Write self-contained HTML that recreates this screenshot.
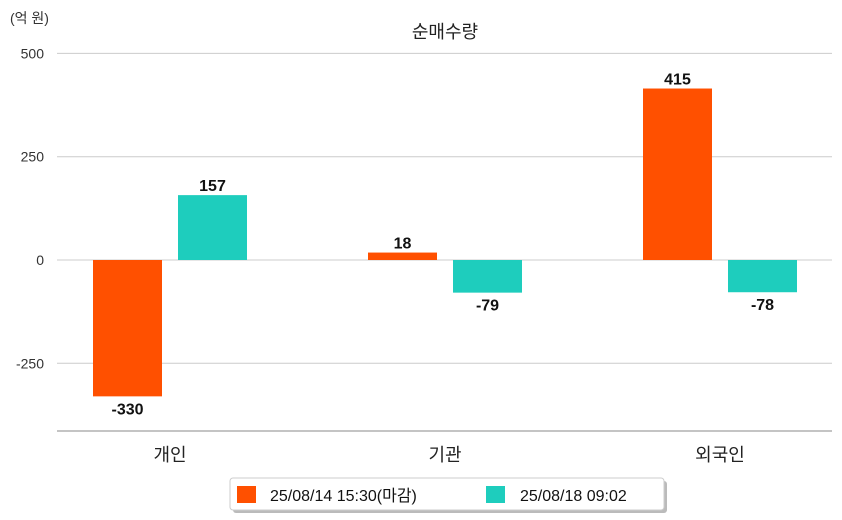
<!DOCTYPE html>
<html><head><meta charset="utf-8">
<style>
body{margin:0;background:#fff;}
svg{display:block;font-family:"Liberation Sans","Noto Sans CJK KR",sans-serif;}
</style></head><body>
<svg id="chart" width="842" height="520">
<text x="10" y="23" font-size="14" fill="#333">(억 원)</text>
<text x="445" y="38" font-size="18" fill="#222" text-anchor="middle">순매수량</text>
<g id="grid"></g>
<g id="bars"></g>
<line x1="57" x2="832" y1="431" y2="431" stroke="#888" stroke-width="1"/>
<g id="xlabels"></g>
<g>
<rect x="233" y="481" width="434" height="32" fill="#bbb" rx="3"/>
<rect x="230" y="478" width="434" height="32" fill="#fff" stroke="#ccc" rx="3"/>
<g>
<rect x="237" y="486" width="19" height="17" fill="#ff5000"/>
<text x="270" y="501" font-size="16" fill="#111">25/08/14 15:30(마감)</text></g>
<g>
<rect x="486" y="486" width="19" height="17" fill="#1ecdbd"/>
<text x="520" y="501" font-size="16" fill="#111">25/08/18 09:02</text></g>
</g>
</svg>
<script>
const categories=["개인","기관","외국인"];
const series1=[-330,18,415];
const series2=[157,-79,-78];
const ticks=[500,250,0,-250];
const NS="http://www.w3.org/2000/svg";
const y=v=>260-v*(103.3/250);
const xc=i=>170+i*275;
function mk(t,a,p,txt){const e=document.createElementNS(NS,t);for(const k in a)e.setAttribute(k,a[k]);if(txt!=null)e.textContent=txt;document.getElementById(p).appendChild(e);return e;}
ticks.forEach(t=>{
 const l=mk("line",{x1:57,x2:832,y1:y(t),y2:y(t),stroke:"#ccc","stroke-width":1},"grid");
 
 
 const tx=mk("text",{x:44,y:y(t)+5,"font-size":14,fill:"#333","text-anchor":"end"},"grid",String(t));
 
 
});
function bar(v,x,color,name){
 const top=Math.min(y(v),y(0)),h=Math.abs(y(v)-y(0));
 const r=mk("rect",{x:x,y:top,width:69,height:h,fill:color},"bars");
 
 
 const ly=v>=0?y(v)-4:y(v)+18;
 const t=mk("text",{x:x+34.5,y:ly,"font-size":16,"font-weight":"bold",fill:"#111","text-anchor":"middle"},"bars",String(v));
 
 
}
categories.forEach((c,i)=>{
 bar(series1[i],xc(i)-77,"#ff5000","bar-series1-"+i);
 bar(series2[i],xc(i)+8,"#1ecdbd","bar-series2-"+i);
 const t=mk("text",{x:xc(i),y:461,"font-size":18,fill:"#222","text-anchor":"middle"},"xlabels",c);
 
 
});
</script>
</body></html>
